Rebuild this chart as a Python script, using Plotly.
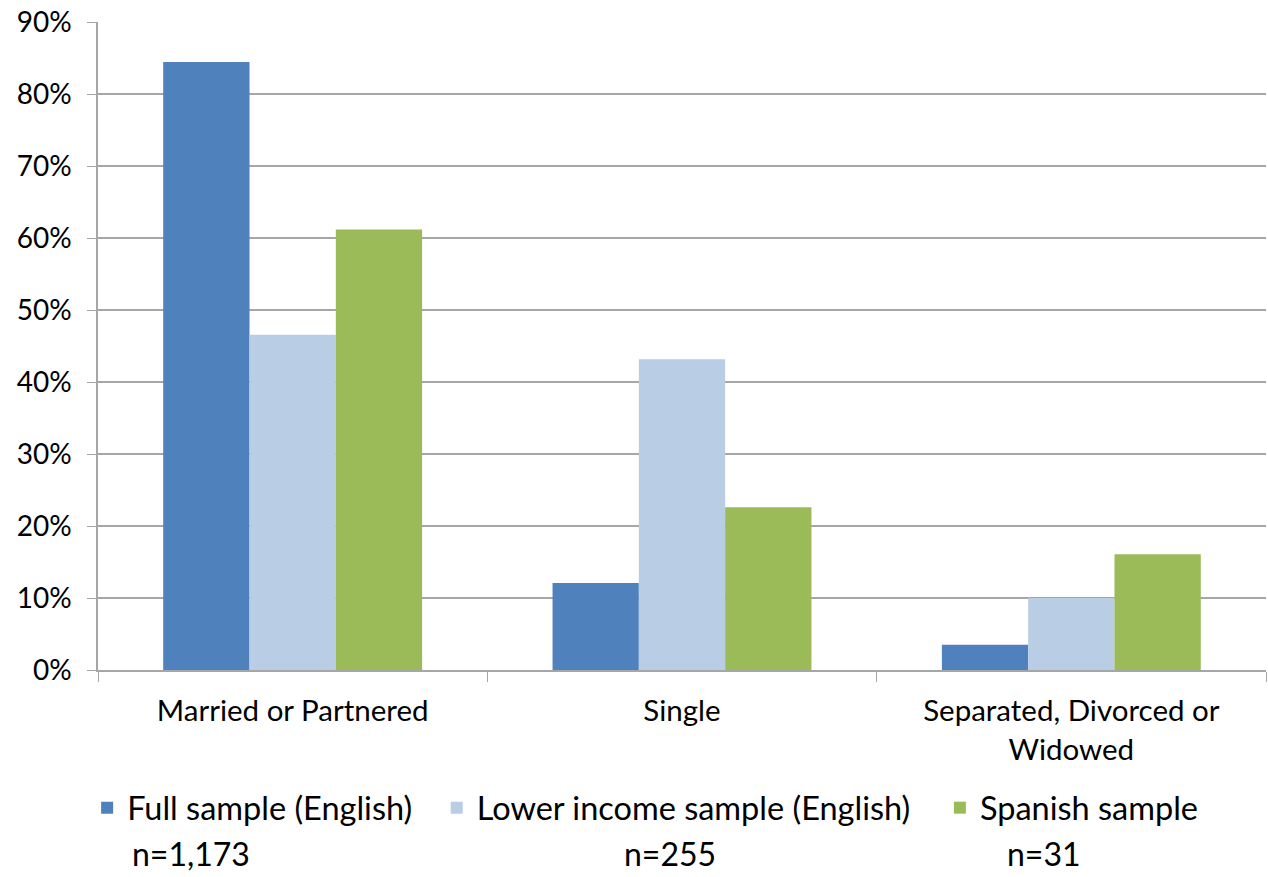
import plotly.graph_objects as go

categories = ["Married or Partnered", "Single", "Separated, Divorced or<br>Widowed"]
series_names = ["Full sample (English)", "Lower income sample (English)", "Spanish sample"]
full_sample = [0.845, 0.121, 0.035]
lower_income = [0.466, 0.432, 0.100]
spanish = [0.612, 0.226, 0.161]
sample_sizes = ["n=1,173", "n=255", "n=31"]
tick_vals = [0, 0.1, 0.2, 0.3, 0.4, 0.5, 0.6, 0.7, 0.8, 0.9]
tick_text = ["0%", "10%", "20%", "30%", "40%", "50%", "60%", "70%", "80%", "90%"]
colors = ["#4F81BD", "#B9CDE5", "#9BBB59"]

FONT = "Lato"
legend_ids = ["legend", "legend2", "legend3"]
legend_x = [-0.0093, 0.290, 0.7208]

fig = go.Figure()
for name, vals, col, lid in zip(series_names, [full_sample, lower_income, spanish], colors, legend_ids):
    fig.add_trace(go.Bar(x=categories, y=vals, name=name, legend=lid,
                         marker=dict(color=col, line=dict(width=0))))

leg_common = dict(orientation="h", xanchor="left", y=-0.213, yanchor="middle",
                  font=dict(family=FONT, size=32.5), itemwidth=30, bgcolor="rgba(0,0,0,0)")
fig.update_layout(
    width=1268, height=877,
    margin=dict(l=98, r=2, t=22, b=207),
    paper_bgcolor="white", plot_bgcolor="white",
    barmode="group", bargap=0.335, bargroupgap=0,
    font=dict(family=FONT, size=29, color="#000000"),
    legend=dict(x=legend_x[0], **leg_common),
    legend2=dict(x=legend_x[1], **leg_common),
    legend3=dict(x=legend_x[2], **leg_common),
    showlegend=True,
)
fig.update_yaxes(range=[0, 0.9005], tickvals=tick_vals, ticktext=tick_text, showgrid=True,
                 gridcolor="#A6A6A6", gridwidth=1.5,
                 showline=True, linecolor="#A6A6A6", linewidth=1.5, ticks="outside", ticklen=9,
                 tickcolor="#A6A6A6", tickfont=dict(family=FONT, size=28), zeroline=False,
                 ticklabelstandoff=10)
fig.update_xaxes(showline=True, linecolor="#A6A6A6", linewidth=1.5, ticks="outside", tickson="boundaries",
                 ticklen=10, tickcolor="#A6A6A6", tickfont=dict(family=FONT, size=29.5),
                 ticklabelstandoff=14)

for label, xp in zip(sample_sizes, [0.08, 0.49, 0.81]):
    fig.add_annotation(text=label, x=xp, y=-0.283, xref="paper", yref="paper", showarrow=False,
                       font=dict(family=FONT, size=32), xanchor="center", yanchor="middle")

fig.write_html("out.html", config={"displayModeBar": False},
               post_script="document.body.style.margin='0';")
